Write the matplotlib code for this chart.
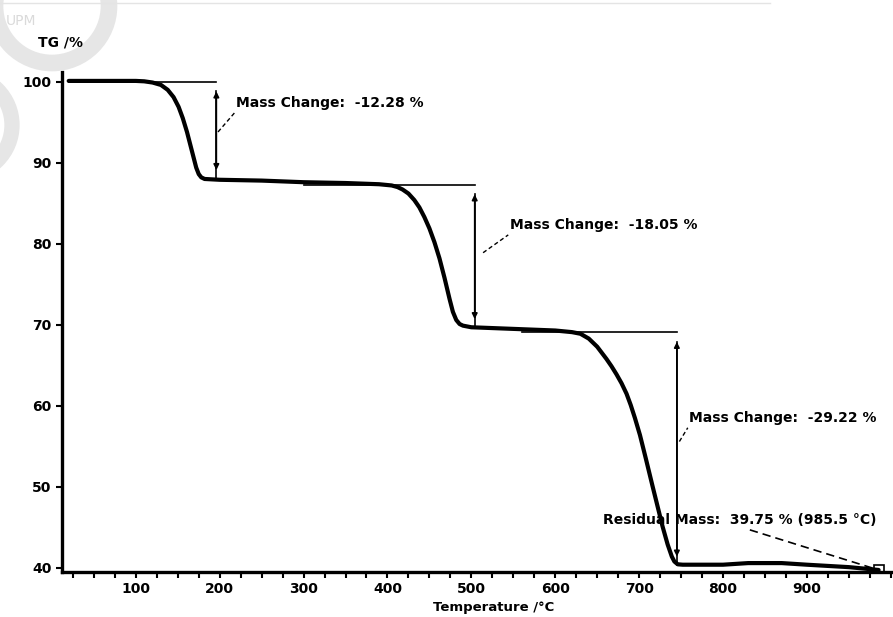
import numpy as np
import matplotlib
matplotlib.use('Agg')
import matplotlib.pyplot as plt
from matplotlib.patches import Circle
from matplotlib.lines import Line2D
from matplotlib.transforms import IdentityTransform
from matplotlib.ticker import MultipleLocator

# TG curve (temperature in C, mass in %)
temperature = [20, 50, 100, 110, 120, 130, 138, 145, 151, 156, 161, 165, 169, 172, 175, 178, 182,
               200, 250, 300, 350, 390, 405, 412, 418, 425, 432, 438, 444, 450, 456, 462,
               468, 474, 478, 482, 486, 490, 500, 550, 600, 620, 630, 640, 650, 661, 667, 673,
               679, 685, 690, 695, 701, 708, 716, 722, 728, 734, 739, 742, 746, 752, 800, 830, 870,
               900, 950, 985.5]
tg = [100.1, 100.1, 100.1, 100.05, 99.9, 99.6, 99.0, 98.1, 96.9, 95.5, 93.8, 92.2, 90.6, 89.4, 88.6, 88.2, 88.0,
      87.9, 87.8, 87.6, 87.5, 87.35, 87.2, 87.0, 86.7, 86.2, 85.4, 84.5, 83.3, 81.9, 80.2, 78.2,
      75.8, 73.2, 71.6, 70.6, 70.1, 69.9, 69.7, 69.5, 69.3, 69.1, 68.9, 68.3, 67.3, 65.8, 64.9, 63.9,
      62.8, 61.5, 60.1, 58.5, 56.4, 53.5, 50.1, 47.6, 45.1, 42.9, 41.4, 40.8, 40.45, 40.4, 40.4, 40.6, 40.6,
      40.4, 40.1, 39.75]

# mass change steps: where the arrow is drawn, plateau level, label
step_temp = [196, 504, 745]
step_top = [100.0, 87.3, 69.1]
step_bottom = [88.1, 69.7, 40.4]
step_line_start = [20, 300, 560]
step_labels = ['Mass Change:  -12.28 %', 'Mass Change:  -18.05 %', 'Mass Change:  -29.22 %']
label_pos = [(220, 97.4), (546, 82.3), (760, 58.5)]
leader_from = [(198, 93.8), (514, 78.9), (748, 55.6)]
residual_label = 'Residual Mass:  39.75 % (985.5 \u00b0C)'

xticks = [100, 200, 300, 400, 500, 600, 700, 800, 900]
yticks = [40, 50, 60, 70, 80, 90, 100]

W, H = 893, 617
fig = plt.figure(figsize=(W / 100, H / 100), dpi=100)

# faint watermark from the scanned page
wm = '#e6e6e6'
fig.add_artist(Circle((52, H - 6), 57, transform=IdentityTransform(), fill=False, lw=12, ec=wm))
fig.add_artist(Circle((-38, H - 125), 50, transform=IdentityTransform(), fill=False, lw=11, ec=wm))
fig.text(6 / W, 1 - 25 / H, 'UPM', color='#dadada', fontsize=10)
fig.add_artist(Line2D([0, 770 / W], [1 - 3 / H, 1 - 3 / H], transform=fig.transFigure,
                      color='#e4e4e4', lw=1))

ax = fig.add_axes([62 / W, 45 / H, (926 - 62) / W, 500 / H])
ax.patch.set_alpha(0)

ax.plot(temperature, tg, color='black', lw=3.0, solid_capstyle='round',
        solid_joinstyle='round', zorder=3)

for i in range(3):
    ax.plot([step_line_start[i], step_temp[i]], [step_top[i], step_top[i]], color='black', lw=1.2)
    ax.plot([step_temp[i], step_temp[i]], [step_top[i] - 1.2, step_bottom[i]], color='black', lw=1.2)
    ax.annotate('', xy=(step_temp[i], step_top[i] - 1.2), xytext=(step_temp[i], step_bottom[i] + 1.0),
                arrowprops=dict(arrowstyle='<|-|>', color='black', lw=1.2,
                                mutation_scale=8, shrinkA=0, shrinkB=0))
    ax.plot([leader_from[i][0], label_pos[i][0] - 2], [leader_from[i][1], label_pos[i][1] - 1.2],
            color='black', lw=1.0, ls=(0, (3, 2)))
    ax.text(label_pos[i][0], label_pos[i][1], step_labels[i], fontsize=10, fontweight='bold',
            va='center', ha='left')

# residual mass
ax.text(657, 45.9, residual_label, fontsize=10, fontweight='bold', va='center', ha='left',
        clip_on=False)
ax.plot([832, temperature[-1]], [44.7, tg[-1]], color='black', lw=1.2, ls=(0, (5, 3)))
ax.plot([temperature[-1]], [tg[-1]], marker='s', ms=7, mfc='none', mec='black', mew=1.2)

ax.set_xlim(12, 1042)
ax.set_ylim(39.5, 101.2)
ax.set_xticks(xticks)
ax.xaxis.set_minor_locator(MultipleLocator(25))
ax.set_yticks(yticks)
ax.tick_params(axis='both', which='both', direction='out', length=4, width=1.5)
ax.tick_params(labelsize=10)
for lab in ax.get_xticklabels() + ax.get_yticklabels():
    lab.set_fontweight('bold')
ax.spines['top'].set_visible(False)
ax.spines['right'].set_visible(False)
ax.spines['left'].set_linewidth(2.4)
ax.spines['bottom'].set_linewidth(2.4)

fig.text(494 / W, 1 - 607 / H, 'Temperature /\u00b0C', fontsize=9.5, fontweight='bold',
         ha='center', va='center')
fig.text(61 / W, 1 - 43 / H, 'TG /%', fontsize=10, fontweight='bold', ha='center', va='center')

fig.savefig('out.png', dpi=100)
